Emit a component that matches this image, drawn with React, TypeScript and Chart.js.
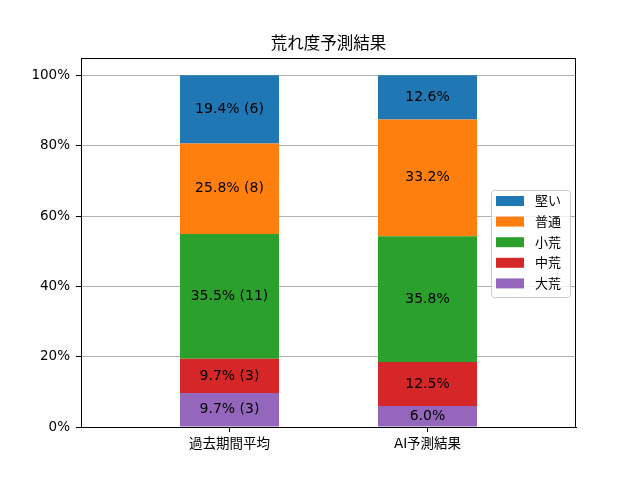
import { useRef, useEffect } from 'react';
import { Chart, registerables } from 'chart.js';

Chart.register(...registerables);

const categories = ['過去期間平均', 'AI予測結果'];
// stack order: bottom to top
const seriesNames = ['大荒', '中荒', '小荒', '普通', '堅い'];
const seriesColors = ['#9467bd', '#d62728', '#2ca02c', '#ff7f0e', '#1f77b4'];
const pastPercent = [9.7, 9.7, 35.5, 25.8, 19.4];
const pastCounts = [3, 3, 11, 8, 6];
const aiPercent = [6.0, 12.5, 35.8, 33.2, 12.6];
const yTicks = [0, 20, 40, 60, 80, 100];

const FONT = '"DejaVu Sans", "Noto Sans CJK JP", sans-serif';

// Helper plugin: title, frame, bar labels and a matplotlib-like legend
const decorPlugin = {
    id: 'decor',
    afterDatasetsDraw(chart: any) {
        const { ctx, chartArea } = chart;
        ctx.save();

        // bar labels
        ctx.font = `14px ${FONT}`;
        ctx.fillStyle = '#000';
        ctx.textAlign = 'center';
        ctx.textBaseline = 'middle';
        chart.data.datasets.forEach((ds: any, di: number) => {
            const meta = chart.getDatasetMeta(di);
            meta.data.forEach((bar: any, i: number) => {
                const pct = ds.data[i].y;
                const cnt = i === 0 ? pastCounts[di] : null;
                const text = cnt != null ? `${pct.toFixed(1)}% (${cnt})` : `${pct.toFixed(1)}%`;
                ctx.fillText(text, bar.x, (bar.y + bar.base) / 2);
            });
        });

        // frame
        ctx.strokeStyle = '#000';
        ctx.lineWidth = 1;
        ctx.strokeRect(chartArea.left + 0.5, chartArea.top + 0.5,
            chartArea.right - chartArea.left - 1, chartArea.bottom - chartArea.top);

        // title
        ctx.font = `16.5px ${FONT}`;
        ctx.fillText('荒れ度予測結果', (chartArea.left + chartArea.right) / 2, chartArea.top - 13);

        // legend (reversed order, top item is top of stack)
        const n = seriesNames.length;
        const boxW = 79, rowH = 20.6;
        const boxH = 107;
        const lx = chartArea.right - 85;
        const ly = (chartArea.top + chartArea.bottom) / 2 - boxH / 2 + 1;
        ctx.fillStyle = 'rgba(255,255,255,0.8)';
        ctx.strokeStyle = '#cccccc';
        ctx.beginPath();
        ctx.roundRect(lx + 0.5, ly + 0.5, boxW, boxH, 3);
        ctx.fill();
        ctx.stroke();
        ctx.textAlign = 'left';
        ctx.font = `13px ${FONT}`;
        for (let k = 0; k < n; k++) {
            const di = n - 1 - k;
            const cy = ly + 11 + k * rowH;
            ctx.fillStyle = seriesColors[di];
            ctx.fillRect(lx + 5, cy - 5, 28, 10);
            ctx.fillStyle = '#000';
            ctx.fillText(seriesNames[di], lx + 44, cy + 1);
        }
        ctx.restore();
    }
};

const StackedChart = () => {
    const canvasRef = useRef(null);
    const chartRef = useRef(null);

    useEffect(() => {
        if (!canvasRef.current) return;
        if (chartRef.current) chartRef.current.destroy();

        const datasets = seriesNames.map((name, si) => ({
            label: name,
            data: [
                { x: 0, y: pastPercent[si] },
                { x: 1, y: aiPercent[si] }
            ],
            backgroundColor: seriesColors[si],
            borderWidth: 0,
            categoryPercentage: 1,
            barPercentage: 0.5
        }));

        chartRef.current = new Chart(canvasRef.current, {
            type: 'bar',
            data: { datasets },
            plugins: [decorPlugin],
            options: {
                responsive: true,
                maintainAspectRatio: false,
                animation: false,
                layout: { padding: { left: 0, top: 58, right: 64, bottom: 0 } },
                plugins: {
                    legend: { display: false },
                    title: { display: false },
                    tooltip: { enabled: false }
                },
                scales: {
                    x: {
                        type: 'linear',
                        stacked: true,
                        offset: false,
                        min: -0.75,
                        max: 1.75,
                        afterBuildTicks: (scale: any) => {
                            scale.ticks = categories.map((_, i) => ({ value: i }));
                        },
                        afterFit: (scale: any) => { scale.height = 53; },
                        ticks: {
                            autoSkip: false,
                            maxRotation: 0,
                            padding: 4,
                            color: '#000',
                            font: { family: FONT, size: 13.5 },
                            callback: (v: any) => categories[v] ?? ''
                        },
                        grid: { offset: false, drawOnChartArea: false, tickColor: '#000', tickLength: 5 },
                        border: { color: '#000' }
                    },
                    y: {
                        stacked: true,
                        min: 0,
                        max: 105,
                        afterBuildTicks: (scale: any) => {
                            scale.ticks = yTicks.map(v => ({ value: v }));
                        },
                        afterFit: (scale: any) => { scale.width = 81; },
                        ticks: {
                            padding: 6,
                            color: '#000',
                            font: { family: FONT, size: 13.5 },
                            callback: (v: any) => `${v}%`
                        },
                        grid: { color: '#b0b0b0', tickColor: '#000', tickLength: 5 },
                        border: { color: '#000' }
                    }
                }
            }
        });

        return () => { if (chartRef.current) chartRef.current.destroy(); };
    }, []);

    return (
        <div style={{ position: 'fixed', left: 0, top: 0, width: 640, height: 480, background: '#fff' }}>
            <canvas ref={canvasRef}></canvas>
        </div>
    );
};

export default function App() {
    return <StackedChart />;
}
